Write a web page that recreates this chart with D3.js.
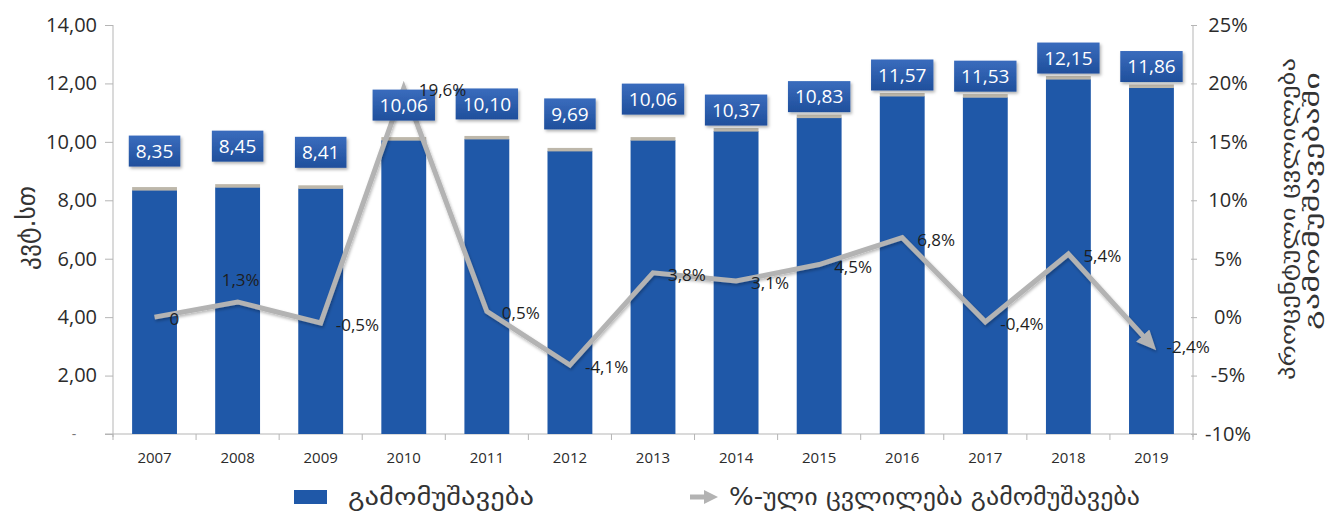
<!DOCTYPE html>
<html>
<head>
<meta charset="utf-8">
<script src="https://cdn.jsdelivr.net/npm/d3@7/dist/d3.min.js"></script>
<style>
  html, body { margin: 0; padding: 0; background: #fff; }
  svg { display: block; }
  text { font-family: "Open Sans", "DejaVu Sans", sans-serif; }
  .geo { font-family: "DejaVu Sans", "Noto Sans", sans-serif; }
</style>
</head>
<body>
<svg id="chart" width="1342" height="516"></svg>
<script>
// Electricity output by year (bars, left axis) and its yearly % change (line, right axis)
const years = ["2007","2008","2009","2010","2011","2012","2013","2014","2015","2016","2017","2018","2019"];
const output = [8.35, 8.45, 8.41, 10.06, 10.10, 9.69, 10.06, 10.37, 10.83, 11.57, 11.53, 12.15, 11.86];
const change = [0, 1.3, -0.5, 19.6, 0.5, -4.1, 3.8, 3.1, 4.5, 6.8, -0.4, 5.4, -2.4];
const leftTicks = [0, 2, 4, 6, 8, 10, 12, 14];
const rightTicks = [-10, -5, 0, 5, 10, 15, 20, 25];

const leftTitle = "კვტ.სთ";
const rightTitle = ["პროცენტული ცვლილება", "გამომუშავებაში"];
const legendBars = "გამომუშავება";
const legendLine = "%-ული ცვლილება გამომუშავება";

// Layout: how far each value box floats above its bar, and where each % label sits
const boxLift = [39, 41, 36, 35, 35, 37, 41, 21, 21, 21, 21, 21, 21];
const changeLabelSide = ["right","top","right","right","right","right","right","right","right","right","right","right","right"];

const W = 1342, H = 516;
const plot = { left: 113, right: 1193, top: 25, bottom: 434 };

const locale = d3.formatLocale({ decimal: ",", thousands: " ", grouping: [3], currency: ["", ""], minus: "-" });
const fmt2 = locale.format(".2f");
const fmt1 = locale.format(".1f");
const fmt0 = locale.format(".0f");

const svg = d3.select("#chart");

const defs = svg.append("defs");
const grad = defs.append("linearGradient").attr("id", "boxGrad").attr("x1", 0).attr("y1", 0).attr("x2", 0).attr("y2", 1);
grad.append("stop").attr("offset", "0%").attr("stop-color", "#3a6cbd");
grad.append("stop").attr("offset", "100%").attr("stop-color", "#1f4f9c");

const shadow = defs.append("filter").attr("id", "boxShadow").attr("x", "-20%").attr("y", "-20%").attr("width", "150%").attr("height", "160%");
shadow.append("feDropShadow").attr("dx", 1.5).attr("dy", 2).attr("stdDeviation", 1.5).attr("flood-color", "#000").attr("flood-opacity", 0.3);

const lineShadow = defs.append("filter").attr("id", "lineShadow").attr("x", "-10%").attr("y", "-10%").attr("width", "120%").attr("height", "130%");
lineShadow.append("feDropShadow").attr("dx", 1).attr("dy", 2).attr("stdDeviation", 1.5).attr("flood-color", "#000").attr("flood-opacity", 0.28);

defs.append("marker")
  .attr("id", "arrow")
  .attr("markerUnits", "userSpaceOnUse")
  .attr("viewBox", "0 0 20 18")
  .attr("markerWidth", 20).attr("markerHeight", 18)
  .attr("refX", 13).attr("refY", 9)
  .attr("orient", "auto")
  .append("path")
  .attr("d", "M0,0 L20,9 L0,18 Z")
  .attr("fill", "#b3b3b3");

// Scales
const x = d3.scaleBand().domain(years).range([plot.left, plot.right]).paddingInner(0.46).paddingOuter(0.23);
const y = d3.scaleLinear().domain([0, 14]).range([plot.bottom, plot.top]);
const y2 = d3.scaleLinear().domain([-10, 25]).range([plot.bottom, plot.top]);

const axisColor = "#b5b5b5";
const textColor = "#2b2b2b";

// Left axis
const gLeft = svg.append("g").attr("transform", `translate(${plot.left},0)`)
  .call(d3.axisLeft(y).tickValues(leftTicks).tickSize(8).tickPadding(8)
    .tickFormat(d => d === 0 ? "-" : fmt2(d)));
gLeft.select(".domain").attr("stroke", axisColor).attr("d", `M0,${plot.top}V${plot.bottom + 3}`);
gLeft.selectAll(".tick line").attr("stroke", axisColor);
gLeft.selectAll(".tick text").attr("fill", textColor).style("font-size", "20px");
gLeft.selectAll(".tick").filter(d => d === 0).select("text").attr("x", -39).attr("text-anchor", "middle").attr("fill", "#777").style("font-size", "14px");

// Right axis
const gRight = svg.append("g").attr("transform", `translate(${plot.right},0)`)
  .call(d3.axisRight(y2).tickValues(rightTicks).tickSize(4).tickPadding(8)
    .tickFormat(d => fmt0(d) + "%"));
gRight.select(".domain").attr("stroke", axisColor).attr("d", `M0,${plot.top}V${plot.bottom + 3}`);
gRight.selectAll(".tick line").attr("stroke", axisColor).attr("x1", -2);
gRight.selectAll(".tick text").attr("fill", textColor).style("font-size", "20px")
  .attr("x", 35).attr("text-anchor", "middle");

// Bottom axis: baseline, separators between years, and year labels
const gBottom = svg.append("g");
gBottom.append("line").attr("x1", plot.left - 8).attr("x2", plot.right + 4)
  .attr("y1", plot.bottom).attr("y2", plot.bottom).attr("stroke", axisColor);
const bounds = years.map(d => x(d) - x.step() * x.paddingInner() / 2).concat([plot.right]);
gBottom.selectAll("line.sep").data(bounds).join("line").attr("class", "sep")
  .attr("x1", d => d).attr("x2", d => d).attr("y1", plot.bottom).attr("y2", plot.bottom + 6)
  .attr("stroke", axisColor);
gBottom.selectAll("text.year").data(years).join("text").attr("class", "year")
  .attr("x", d => x(d) + x.bandwidth() / 2).attr("y", 458).attr("dy", "0.35em")
  .attr("text-anchor", "middle").attr("fill", textColor).style("font-size", "15px")
  .text(d => d);

// Bars with a light cap on top
const barColor = "#1f58a8";
const bars = svg.append("g");
bars.selectAll("rect.bar").data(years).join("rect").attr("class", "bar")
  .attr("x", d => x(d)).attr("width", x.bandwidth())
  .attr("y", (d, i) => y(output[i])).attr("height", (d, i) => y(0) - y(output[i]))
  .attr("fill", barColor);
bars.selectAll("rect.cap").data(years).join("rect").attr("class", "cap")
  .attr("x", d => x(d)).attr("width", x.bandwidth())
  .attr("y", (d, i) => y(output[i]) - 3).attr("height", 3.5)
  .attr("fill", "#bdb7aa");

// % change line with arrow at the end
const pts = years.map((d, i) => [x(d) + x.bandwidth() / 2, y2(change[i])]);
svg.append("path")
  .attr("d", d3.line()(pts))
  .attr("fill", "none").attr("stroke", "#b3b3b3").attr("stroke-width", 5)
  .attr("stroke-linejoin", "miter").attr("marker-end", "url(#arrow)")
  .attr("filter", "url(#lineShadow)");

// Value boxes above the bars
const boxes = svg.append("g");
years.forEach((d, i) => {
  const cx = x(d) + x.bandwidth() / 2;
  const cy = y(output[i]) - boxLift[i];
  const g = boxes.append("g");
  const t = g.append("text").attr("x", cx).attr("y", cy).attr("dy", "0.36em")
    .attr("text-anchor", "middle").attr("fill", "#fff").style("font-size", "19px")
    .text(fmt2(output[i]));
  const bb = t.node().getBBox();
  g.insert("rect", "text")
    .attr("x", cx - bb.width / 2 - 7).attr("width", bb.width + 14)
    .attr("y", cy - 15.5).attr("height", 31)
    .attr("fill", "url(#boxGrad)").attr("filter", "url(#boxShadow)");
});

// % labels for the line
svg.append("g").selectAll("text").data(years).join("text")
  .attr("x", (d, i) => changeLabelSide[i] === "top" ? pts[i][0] + 3 : pts[i][0] + 15)
  .attr("y", (d, i) => changeLabelSide[i] === "top" ? pts[i][1] - 22 : pts[i][1] + 2)
  .attr("dy", "0.35em")
  .attr("text-anchor", (d, i) => changeLabelSide[i] === "top" ? "middle" : "start")
  .attr("fill", "#1e1e1e").style("font-size", "17px")
  .text((d, i) => change[i] === 0 ? "0" : fmt1(change[i]) + "%");

// Axis titles
svg.append("text").attr("class", "geo")
  .attr("transform", "translate(26,228) rotate(-90)")
  .attr("text-anchor", "middle").attr("dy", "0.35em")
  .attr("fill", "#333").style("font-size", "26px")
  .attr("textLength", 84).attr("lengthAdjust", "spacingAndGlyphs")
  .text(leftTitle);

const rtCenters = [[1288, 219, 322], [1312, 201, 258]];
rightTitle.forEach((s, i) => {
  svg.append("text").attr("class", "geo")
    .attr("transform", `translate(${rtCenters[i][0]},${rtCenters[i][1]}) rotate(-90)`)
    .attr("text-anchor", "middle").attr("dy", "0.35em")
    .attr("fill", "#333").style("font-size", "20px")
    .attr("textLength", rtCenters[i][2]).attr("lengthAdjust", "spacingAndGlyphs")
    .text(s);
});

// Legend
const lg = svg.append("g");
lg.append("rect").attr("x", 294).attr("y", 490).attr("width", 33).attr("height", 14).attr("fill", barColor);
lg.append("text").attr("class", "geo").attr("x", 348).attr("y", 497).attr("dy", "0.35em")
  .attr("fill", "#333").style("font-size", "24px")
  .attr("textLength", 186).attr("lengthAdjust", "spacingAndGlyphs")
  .text(legendBars);
lg.append("line").attr("x1", 690).attr("x2", 706).attr("y1", 497).attr("y2", 497)
  .attr("stroke", "#b3b3b3").attr("stroke-width", 5);
lg.append("path").attr("d", "M704,490 L718,497 L704,504 Z").attr("fill", "#b3b3b3");
lg.append("text").attr("class", "geo").attr("x", 729).attr("y", 497).attr("dy", "0.35em")
  .attr("fill", "#333").style("font-size", "24px")
  .attr("textLength", 411).attr("lengthAdjust", "spacingAndGlyphs")
  .text(legendLine);
</script>
</body>
</html>
